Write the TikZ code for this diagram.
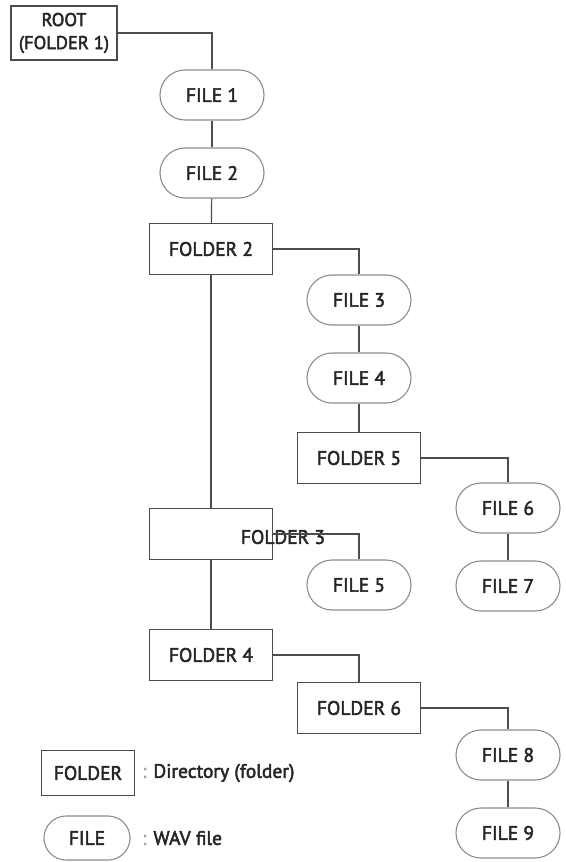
\documentclass[tikz,border=0pt]{standalone}
\usepackage{fontspec}
\setmainfont{PT Sans}[UprightFeatures={FakeBold=2.5}]
\usepackage{tikz}

\begin{document}
\begin{tikzpicture}[x=1pt, y=-1pt, every node/.style={font=\fontsize{19.5}{21}\selectfont, text=black!85},
                    folder/.style={draw=black!70, line width=1.2pt, minimum width=123pt,
                                   minimum height=51pt, inner sep=0pt},
                    wav/.style={draw=black!45, line width=1.1pt, rounded corners=25pt,
                                minimum width=104pt, minimum height=50pt, inner sep=0pt},
                    link/.style={draw=black!70, line width=1.2pt}]
                      \useasboundingbox (0, 0) rectangle (565, 862);

                      \node[folder, minimum width=106pt, minimum height=54pt, align=center,
                            font=\fontsize{18.5}{23}\selectfont] (root) at (64, 33) {ROOT\\(FOLDER 1)};
                      \node[wav] (f1) at (212, 95) {FILE 1};
                      \node[wav] (f2) at (212, 173) {FILE 2};
                      \node[folder] (d2) at (211, 249) {FOLDER 2};
                      \node[wav] (f3) at (359, 300) {FILE 3};
                      \node[wav] (f4) at (359, 378) {FILE 4};
                      \node[folder] (d5) at (359, 458) {FOLDER 5};
                      \node[wav] (f6) at (508, 508) {FILE 6};
                      \node[wav] (f7) at (508, 586) {FILE 7};
                      \node[folder] (d3) at (211, 534) {};
                      \node[inner sep=0pt] (d3text) at (283, 537) {FOLDER 3};
                      \node[wav] (f5) at (359, 585) {FILE 5};
                      \node[folder] (d4) at (211, 655) {FOLDER 4};
                      \node[folder] (d6) at (359, 708) {FOLDER 6};
                      \node[wav] (f8) at (508, 755) {FILE 8};
                      \node[wav] (f9) at (508, 833) {FILE 9};

                      % legend
                      \node[folder, minimum width=93pt, minimum height=45pt] (keyfolder) at (88, 773) {FOLDER};
                      \node[wav, minimum width=86pt, minimum height=44pt, rounded corners=22pt] (keyfile) at (87, 838) {FILE};
                      \node[anchor=west, inner sep=0pt] (keyfoldertext) at (142, 773) {\textcolor{black!35}{:}\hspace{7pt}Directory (folder)};
                      \node[anchor=west, inner sep=0pt] (keyfiletext) at (142, 838) {\textcolor{black!35}{:}\hspace{7pt}WAV file};

                      \foreach \i/\j in {f1/f2, f2/d2, d2/d3, d3/d4, f3/f4, f4/d5, f6/f7, f8/f9} {
                              \draw[link] (\i) -- (\j);
                          }
                      \foreach \i/\j in {root/f1, d2/f3, d5/f6, d3/f5, d4/d6, d6/f8} {
                              \draw[link] (\i.east) -| (\j.north);
                          }
                  \end{tikzpicture}
\end{document}
